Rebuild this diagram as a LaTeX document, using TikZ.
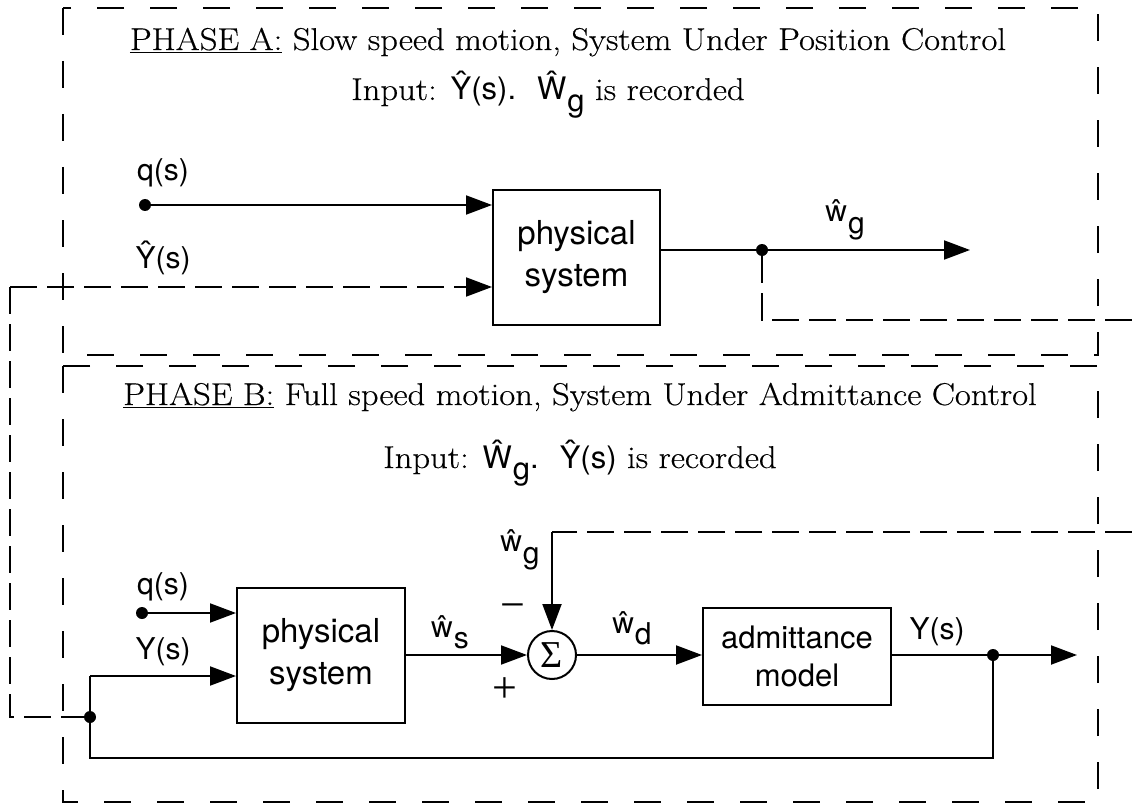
\documentclass[tikz,border=0pt]{standalone}
\usepackage{fontspec}
\newfontfamily\lab{TeX Gyre Heros}
\newfontfamily\ttlfont{Latin Modern Roman}[FakeStretch=1.1,FakeBold=0.4]
\newfontfamily\sgnfont{Liberation Serif}
\usetikzlibrary{arrows.meta}
\newcommand\hatsub[2]{#1\kern1pt\raisebox{-0.38em}{#2}}
\begin{document}
\begin{tikzpicture}[x=1pt,y=-1pt,
  sig/.style={line width=2pt},
  arr/.style={line width=2pt,-{Triangle[length=26pt,width=19pt]}},
  conn/.style={line width=2pt,dash pattern=on 27pt off 10pt},
  connarr/.style={conn,-{Triangle[length=26pt,width=19pt]}},
  frame/.style={line width=2pt,dash pattern=on 27pt off 26pt},
  blk/.style={draw,line width=2pt,align=center,inner sep=0pt,
    font=\lab\fontsize{33}{42}\selectfont},
  lbl/.style={font=\lab\fontsize{30}{34}\selectfont,inner sep=0pt},
  ttl/.style={font=\ttlfont\fontsize{31.5}{36}\selectfont,inner sep=0pt},
  sgn/.style={font=\sgnfont\fontsize{44}{48}\selectfont,inner sep=0pt},
  dot/.style={circle,fill,inner sep=0pt,minimum size=12pt},
]
\useasboundingbox (0,0) rectangle (1132,805);

% ---------- Phase A frame ----------
\draw[frame] (63,8) rectangle (1098,355);
\node[ttl,anchor=base] (ta) at (568,50)
  {\underline{PHASE A:} Slow speed motion, System Under Position Control};
\node[ttl,anchor=base] (ia) at (548,100)
  {Input: {\lab\fontsize{31}{36}\selectfont Ŷ(s).}\ \
   {\lab\fontsize{31}{36}\selectfont\hatsub{Ŵ}{g}} is recorded};

% Phase A blocks
\node[blk,minimum width=167pt,minimum height=135pt] (pa) at (576.5,257.5)
  {physical\\system};
\node[dot] (qa) at (145,205) {};
\node[lbl] (qal) at (163,173) {q(s)};
\node[lbl] (yal) at (163,258) {Ŷ(s)};
\coordinate (yin) at (10,287);
\coordinate (pao) at (pa.east |- 0,250);
\node[dot] (tapa) at (762,250) {};
\coordinate (wgend) at (970,250);
\node[lbl] (wgal) at (845,220) {\hatsub{ŵ}{g}};
\coordinate (tapdn) at (762,320);
\coordinate (tapout) at (1132,320);

\draw[arr] (qa) -- (qa -| pa.west);
\draw[connarr] (yin) -- (yin -| pa.west);
\draw[sig] (pao) -- (tapa);
\draw[arr] (tapa) -- (wgend);
\draw[conn] (tapa) -- (tapdn) -- (tapout);

% ---------- Phase B frame ----------
\draw[frame] (63,366) rectangle (1098,802);
\node[ttl,anchor=base] (tb) at (580,405)
  {\underline{PHASE B:} Full speed motion, System Under Admittance Control};
\node[ttl,anchor=base] (ib) at (580,468)
  {Input: {\lab\fontsize{31}{36}\selectfont\hatsub{Ŵ}{g}.}\ \
   {\lab\fontsize{31}{36}\selectfont Ŷ(s)} is recorded};

% Phase B blocks
\node[blk,minimum width=168pt,minimum height=135pt] (pb) at (321,655.5)
  {physical\\system};
\node[draw,circle,line width=2pt,minimum size=48pt,inner sep=0pt,
  font=\sgnfont\fontsize{38}{40}\selectfont] (sum) at (552,655) {Σ};
\node[blk,minimum width=188pt,minimum height=97pt,
  font=\lab\fontsize{31}{38}\selectfont] (adm) at (797,656.5)
  {admittance\\model};

\node[dot] (qb) at (142,613) {};
\node[lbl] (qbl) at (163,587) {q(s)};
\node[lbl] (ybl) at (163,652) {Y(s)};
\node[dot] (fbdot) at (90,717) {};
\coordinate (ycorner) at (90,676);
\coordinate (fbl) at (90,758);
\node[dot] (outdot) at (993,655) {};
\coordinate (fbr) at (993,758);
\coordinate (yend) at (1077,655);
\node[lbl] (youtl) at (937,632) {Y(s)};
\node[lbl] (wsl) at (450,632) {\hatsub{ŵ}{s}};
\node[lbl] (wdl) at (632,628) {\hatsub{ŵ}{d}};
\node[lbl] (wgbl) at (520,550) {\hatsub{ŵ}{g}};
\node[sgn] (minus) at (513,612) {−};
\node[sgn] (plus) at (505,690) {+};
\coordinate (wgin) at (1132,532);
\coordinate (wgcorner) at (552,532);
\coordinate (yleft) at (10,717);

\draw[arr] (qb) -- (qb -| pb.west);
\draw[sig] (fbdot) -- (ycorner);
\draw[arr] (ycorner) -- (ycorner -| pb.west);
\draw[arr] (pb.east |- sum) -- (sum.west);
\draw[conn] (wgin) -- (wgcorner);
\draw[arr] (wgcorner) -- (sum.north);
\draw[arr] (sum.east) -- (adm.west |- sum);
\draw[sig] (adm.east |- outdot) -- (outdot);
\draw[arr] (outdot) -- (yend);
\draw[sig] (outdot) -- (fbr) -- (fbl) -- (fbdot);

% dashed link carrying the recorded signal between the phases
\draw[conn] (yin) -- (yleft) -- (fbdot);
\end{tikzpicture}
\end{document}
